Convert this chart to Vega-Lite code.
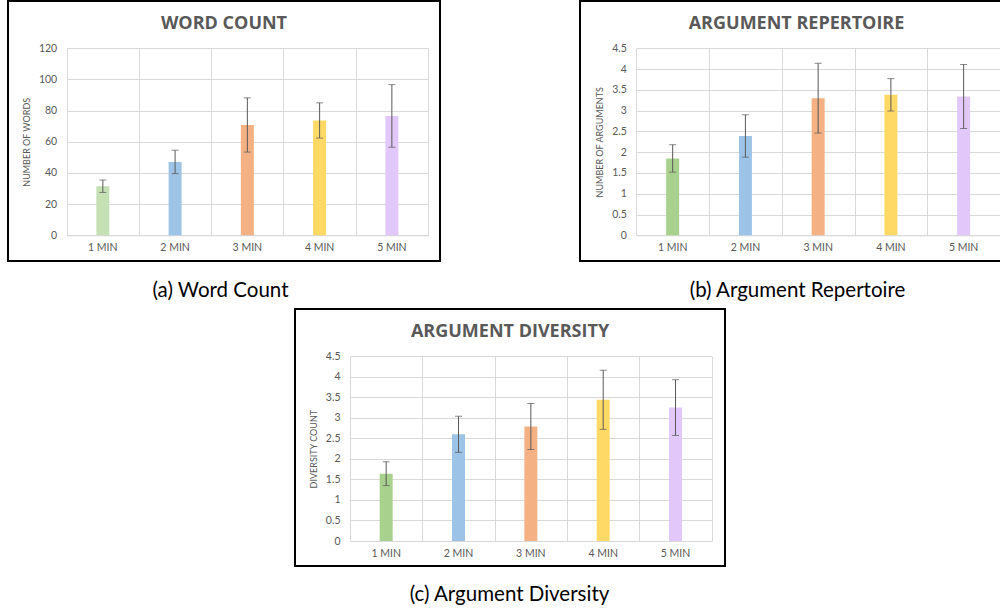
{
  "$schema": "https://vega.github.io/schema/vega-lite/v6.json",
  "padding": {"left": 7, "top": 0, "right": 0, "bottom": 0},
  "background": "white",
  "datasets": {
    "bars": [
      {"panel": "a", "minute": "1 MIN", "value": 31.5, "err": 4.0},
      {"panel": "a", "minute": "2 MIN", "value": 47.1, "err": 7.5},
      {"panel": "a", "minute": "3 MIN", "value": 70.8, "err": 17.4},
      {"panel": "a", "minute": "4 MIN", "value": 73.7, "err": 11.3},
      {"panel": "a", "minute": "5 MIN", "value": 76.6, "err": 20.1},
      {"panel": "b", "minute": "1 MIN", "value": 1.85, "err": 0.33},
      {"panel": "b", "minute": "2 MIN", "value": 2.39, "err": 0.51},
      {"panel": "b", "minute": "3 MIN", "value": 3.3, "err": 0.84},
      {"panel": "b", "minute": "4 MIN", "value": 3.38, "err": 0.39},
      {"panel": "b", "minute": "5 MIN", "value": 3.34, "err": 0.77},
      {"panel": "c", "minute": "1 MIN", "value": 1.64, "err": 0.29},
      {"panel": "c", "minute": "2 MIN", "value": 2.6, "err": 0.44},
      {"panel": "c", "minute": "3 MIN", "value": 2.79, "err": 0.56},
      {"panel": "c", "minute": "4 MIN", "value": 3.44, "err": 0.72},
      {"panel": "c", "minute": "5 MIN", "value": 3.25, "err": 0.68}
    ]
  },
  "config": {
    "view": {"stroke": "black", "strokeWidth": 2},
    "title": {"font": "Open Sans", "fontSize": 18, "fontWeight": "bold", "color": "#595959", "anchor": "middle", "offset": -32},
    "axis": {
      "labelFont": "Lato", "labelFontSize": 10.5, "labelColor": "#595959",
      "titleFont": "Lato", "titleFontSize": 9, "titleFontWeight": "normal", "titleColor": "#595959",
      "gridColor": "#D9D9D9", "gridWidth": 1, "domainColor": "#D9D9D9", "ticks": false
    }
  },
  "resolve": {"scale": {"color": "independent"}},
  "spacing": 6,
  "vconcat": [
    {
      "hconcat": [
        {
          "width": 432, "height": 260,
          "title": {"text": "WORD COUNT"},
          "data": {"name": "bars"},
          "transform": [{"filter": "datum.panel === 'a'"}],
          "layer": [
            {"mark": {"type": "bar", "width": 13},
             "encoding": {
               "x": {"field": "minute", "type": "nominal", "sort": null,
                 "scale": {"range": [58.7, 420], "paddingInner": 0, "paddingOuter": 0},
                 "axis": {"orient": "top", "title": null, "labels": false, "domain": false, "grid": true, "tickBand": "extent"}},
               "y": {"field": "value", "type": "quantitative",
                 "scale": {"domain": [0, 120], "range": [234.3, 47.3], "nice": false},
                 "axis": {"orient": "left", "title": null, "labels": false, "domain": false, "grid": true, "values": [0, 20, 40, 60, 80, 100, 120]}},
               "color": {"field": "minute", "type": "nominal", "legend": null,
                 "scale": {"domain": ["1 MIN", "2 MIN", "3 MIN", "4 MIN", "5 MIN"], "range": ["#C5E0B4", "#9DC3E6", "#F4B183", "#FFD966", "#E2C8FA"]}}}},
            {"mark": {"type": "errorbar", "ticks": {"size": 7, "color": "#595959"}, "rule": {"color": "#595959"}},
             "encoding": {
               "x": {"field": "minute", "type": "nominal", "sort": null,
                 "axis": {"orient": "bottom", "title": "(a) Word Count", "titleX": 212, "titleY": 61, "titleAngle": 0, "titleAlign": "center", "titleBaseline": "alphabetic",
                   "titleFont": "Lato", "titleFontSize": 20.5, "titleColor": "black",
                   "offset": -25.7, "grid": false, "labelAngle": 0, "labelPadding": 7}},
               "y": {"field": "value", "type": "quantitative",
                 "axis": {"orient": "left", "title": "NUMBER OF WORDS", "offset": -58.7, "domain": false, "grid": false, "values": [0, 20, 40, 60, 80, 100, 120], "labelPadding": 10, "titlePadding": 7}},
               "yError": {"field": "err"}}}
          ],
          "resolve": {"axis": {"x": "independent", "y": "independent"}}
        },
        {
          "width": 421, "height": 260,
          "title": {"text": "ARGUMENT REPERTOIRE", "dx": 6},
          "data": {"name": "bars"},
          "transform": [{"filter": "datum.panel === 'b'"}],
          "layer": [
            {"mark": {"type": "bar", "width": 13},
             "encoding": {
               "x": {"field": "minute", "type": "nominal", "sort": null,
                 "scale": {"range": [56.3, 420], "paddingInner": 0, "paddingOuter": 0},
                 "axis": {"orient": "top", "title": null, "labels": false, "domain": false, "grid": true, "tickBand": "extent"}},
               "y": {"field": "value", "type": "quantitative",
                 "scale": {"domain": [0, 4.5], "range": [234.3, 47.3], "nice": false},
                 "axis": {"orient": "left", "title": null, "labels": false, "domain": false, "grid": true, "values": [0, 0.5, 1, 1.5, 2, 2.5, 3, 3.5, 4, 4.5]}},
               "color": {"field": "minute", "type": "nominal", "legend": null,
                 "scale": {"domain": ["1 MIN", "2 MIN", "3 MIN", "4 MIN", "5 MIN"], "range": ["#A9D18E", "#9DC3E6", "#F4B183", "#FFD966", "#E2C8FA"]}}}},
            {"mark": {"type": "errorbar", "ticks": {"size": 7, "color": "#595959"}, "rule": {"color": "#595959"}},
             "encoding": {
               "x": {"field": "minute", "type": "nominal", "sort": null,
                 "axis": {"orient": "bottom", "title": "(b) Argument Repertoire", "titleX": 217, "titleY": 61, "titleAngle": 0, "titleAlign": "center", "titleBaseline": "alphabetic",
                   "titleFont": "Lato", "titleFontSize": 20.5, "titleColor": "black",
                   "offset": -25.7, "grid": false, "labelAngle": 0, "labelPadding": 7}},
               "y": {"field": "value", "type": "quantitative",
                 "axis": {"orient": "left", "title": "NUMBER OF ARGUMENTS", "offset": -56.3, "domain": false, "grid": false, "format": "~g", "values": [0, 0.5, 1, 1.5, 2, 2.5, 3, 3.5, 4, 4.5], "labelPadding": 10, "titlePadding": 7}},
               "yError": {"field": "err"}}}
          ],
          "resolve": {"axis": {"x": "independent", "y": "independent"}}
        }
      ],
      "spacing": 138,
      "resolve": {"scale": {"color": "independent"}}
    },
    {
      "hconcat": [
        {
          "width": 286, "height": 10,
          "view": {"stroke": null},
          "data": {"values": []},
          "mark": "point"
        },
        {
          "width": 430, "height": 257,
          "title": {"text": "ARGUMENT DIVERSITY"},
          "data": {"name": "bars"},
          "transform": [{"filter": "datum.panel === 'c'"}],
          "layer": [
            {"mark": {"type": "bar", "width": 13},
             "encoding": {
               "x": {"field": "minute", "type": "nominal", "sort": null,
                 "scale": {"range": [55, 416.7], "paddingInner": 0, "paddingOuter": 0},
                 "axis": {"orient": "top", "title": null, "labels": false, "domain": false, "grid": true, "tickBand": "extent"}},
               "y": {"field": "value", "type": "quantitative",
                 "scale": {"domain": [0, 4.5], "range": [232, 47.3], "nice": false},
                 "axis": {"orient": "left", "title": null, "labels": false, "domain": false, "grid": true, "values": [0, 0.5, 1, 1.5, 2, 2.5, 3, 3.5, 4, 4.5]}},
               "color": {"field": "minute", "type": "nominal", "legend": null,
                 "scale": {"domain": ["1 MIN", "2 MIN", "3 MIN", "4 MIN", "5 MIN"], "range": ["#A9D18E", "#9DC3E6", "#F4B183", "#FFD966", "#E2C8FA"]}}}},
            {"mark": {"type": "errorbar", "ticks": {"size": 7, "color": "#595959"}, "rule": {"color": "#595959"}},
             "encoding": {
               "x": {"field": "minute", "type": "nominal", "sort": null,
                 "axis": {"orient": "bottom", "title": "(c) Argument Diversity", "titleX": 214, "titleY": 59, "titleAngle": 0, "titleAlign": "center", "titleBaseline": "alphabetic",
                   "titleFont": "Lato", "titleFontSize": 20.5, "titleColor": "black",
                   "offset": -25, "grid": false, "labelAngle": 0, "labelPadding": 7}},
               "y": {"field": "value", "type": "quantitative",
                 "axis": {"orient": "left", "title": "DIVERSITY COUNT", "offset": -55, "domain": false, "grid": false, "format": "~g", "values": [0, 0.5, 1, 1.5, 2, 2.5, 3, 3.5, 4, 4.5], "labelPadding": 10, "titlePadding": 7}},
               "yError": {"field": "err"}}}
          ],
          "resolve": {"axis": {"x": "independent", "y": "independent"}}
        }
      ],
      "spacing": 0,
      "resolve": {"scale": {"color": "independent"}}
    }
  ]
}
